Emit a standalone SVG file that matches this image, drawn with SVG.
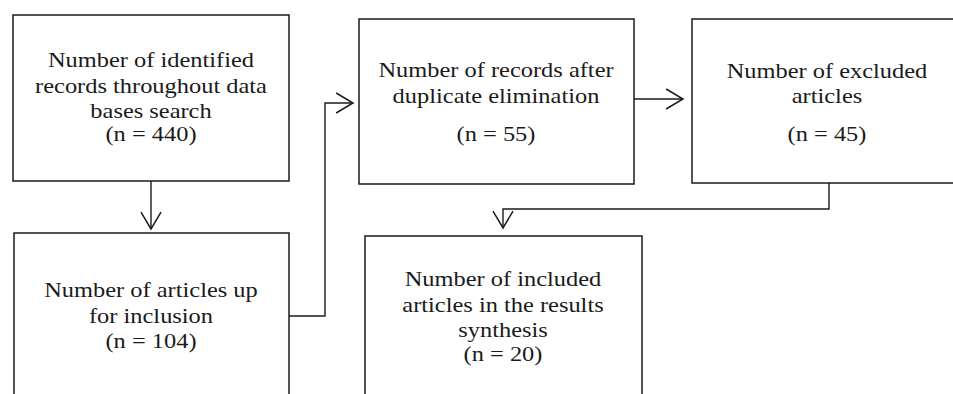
<svg xmlns="http://www.w3.org/2000/svg" width="953" height="394" viewBox="0 0 953 394">
<style>
.box{fill:#fff;stroke:#1a1a1a;stroke-width:1.5}
.lbl{font-family:"Liberation Serif","Times New Roman",serif;font-size:22px;fill:#1a1a1a;text-anchor:middle}
.conn{fill:none;stroke:#1a1a1a;stroke-width:1.4}
</style>
<defs>
<marker id="arr" markerUnits="userSpaceOnUse" markerWidth="20" markerHeight="24" viewBox="-17 -11 19 22" refX="0" refY="0" orient="auto">
<path d="M-16,-9.5 L0,0 L-16,9.5" fill="none" stroke="#1a1a1a" stroke-width="1.4"/>
</marker>
</defs>
<rect width="953" height="394" fill="#fff"/>
<g id="connectors">
<path class="conn" d="M151,181 V229" marker-end="url(#arr)"/>
<path class="conn" d="M289,316 H325 V103 H353" marker-end="url(#arr)"/>
<path class="conn" d="M634,99 H683" marker-end="url(#arr)"/>
<path class="conn" d="M829,183 V209 H503 V228" marker-end="url(#arr)"/>
</g>
<g id="n1">
<rect class="box" x="13" y="15" width="276" height="166"/>
<g transform="translate(151 0) scale(1.11 1)"><text class="lbl"><tspan x="0" y="67">Number of identified</tspan><tspan x="0" y="93">records throughout data</tspan><tspan x="0" y="118">bases search</tspan><tspan x="0" y="141">(n = 440)</tspan></text></g>
</g>
<g id="n2">
<rect class="box" x="14" y="233" width="275" height="180"/>
<g transform="translate(151 0) scale(1.11 1)"><text class="lbl"><tspan x="0" y="297">Number of articles up</tspan><tspan x="0" y="323">for inclusion</tspan><tspan x="0" y="348">(n = 104)</tspan></text></g>
</g>
<g id="n3">
<rect class="box" x="359" y="19" width="275" height="165"/>
<g transform="translate(496 0) scale(1.11 1)"><text class="lbl"><tspan x="0" y="77">Number of records after</tspan><tspan x="0" y="103">duplicate elimination</tspan><tspan x="0" y="141">(n = 55)</tspan></text></g>
</g>
<g id="n4">
<rect class="box" x="692" y="19" width="280" height="164"/>
<g transform="translate(827 0) scale(1.11 1)"><text class="lbl"><tspan x="0" y="78">Number of excluded</tspan><tspan x="0" y="103">articles</tspan><tspan x="0" y="141">(n = 45)</tspan></text></g>
</g>
<g id="n5">
<rect class="box" x="365" y="236" width="277" height="180"/>
<g transform="translate(503 0) scale(1.11 1)"><text class="lbl"><tspan x="0" y="286">Number of included</tspan><tspan x="0" y="312">articles in the results</tspan><tspan x="0" y="337">synthesis</tspan><tspan x="0" y="361">(n = 20)</tspan></text></g>
</g>
</svg>
